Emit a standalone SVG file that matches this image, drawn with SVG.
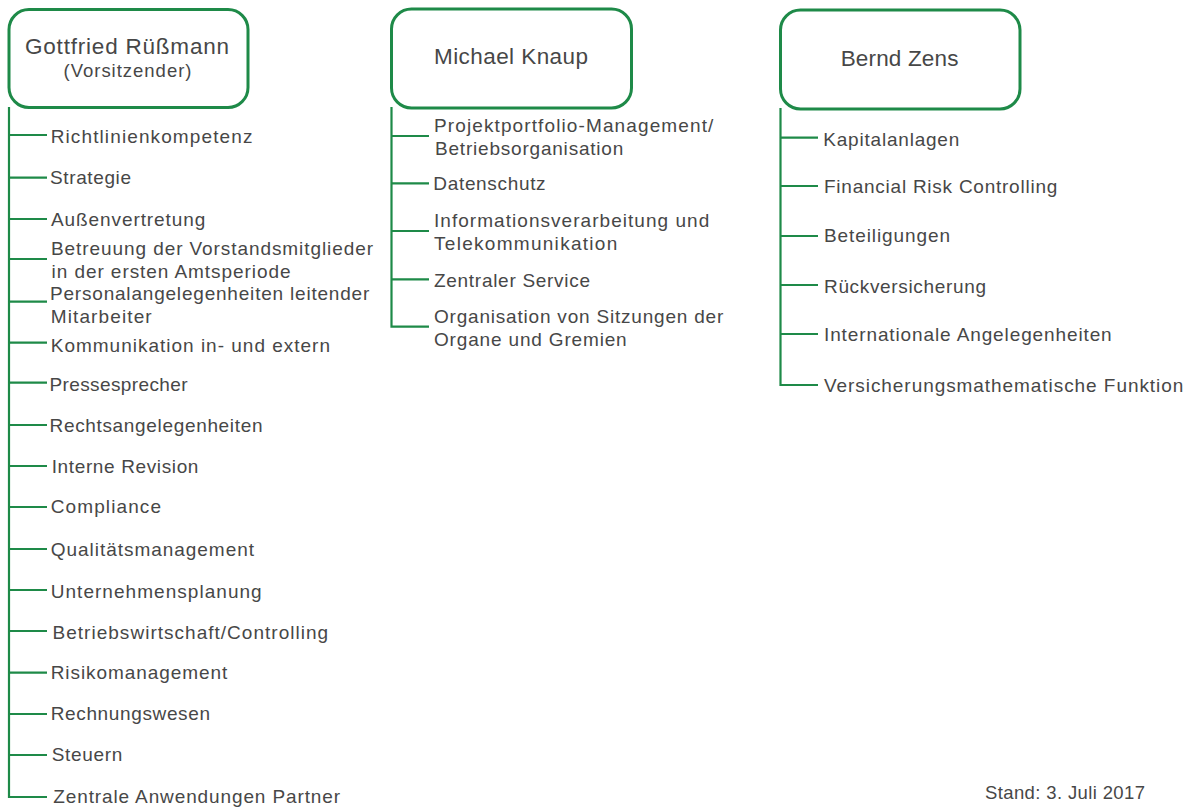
<svg xmlns="http://www.w3.org/2000/svg" width="1191" height="807" viewBox="0 0 1191 807">
<style>
.box{fill:#fff;stroke:#1e8a48;stroke-width:3}
.ln{fill:none;stroke:#1e8a48;stroke-width:2.2}
.t{font-family:"Liberation Sans",Arial,sans-serif;font-size:19px;fill:#474747}
.h{font-family:"Liberation Sans",Arial,sans-serif;font-size:22.5px;fill:#474747}
.s{font-family:"Liberation Sans",Arial,sans-serif;font-size:18.5px;fill:#474747}
</style>
<rect width="1191" height="807" fill="#fff"/>
<g id="connectors">
<path class="ln" d="M9,107 V797 H47 M9,135 H47 M9,177.7 H47 M9,219 H47 M9,259 H47 M9,301.7 H47 M9,342.7 H47 M9,382.7 H47 M9,425 H47 M9,466 H47 M9,507 H47 M9,549 H47 M9,590 H47 M9,631 H47 M9,672.7 H47 M9,714 H47 M9,755 H47"/>
<path class="ln" d="M391.5,107 V326.7 H429 M391.5,136 H429 M391.5,183.3 H429 M391.5,231 H429 M391.5,279.3 H429"/>
<path class="ln" d="M780.5,108 V385 H818 M780.5,137.7 H818 M780.5,186 H818 M780.5,236 H818 M780.5,285 H818 M780.5,334 H818"/>
</g>
<g id="node-ruessmann">
<rect class="box" x="9" y="9.5" width="239" height="98" rx="20"/>
<text class="h" x="25" y="54" textLength="204" lengthAdjust="spacing">Gottfried Rüßmann</text>
<text class="s" x="63.5" y="77" textLength="128" lengthAdjust="spacing">(Vorsitzender)</text>
</g>
<g id="node-knaup">
<rect class="box" x="391.5" y="9" width="240" height="99" rx="20"/>
<text class="h" x="434" y="64" textLength="154" lengthAdjust="spacing">Michael Knaup</text>
</g>
<g id="node-zens">
<rect class="box" x="780.5" y="10" width="239.5" height="99" rx="20"/>
<text class="h" x="840.7" y="65.5" textLength="117.7" lengthAdjust="spacing">Bernd Zens</text>
</g>
<g id="items-ruessmann">
<text class="t" x="50.7" y="143.3" textLength="201.7" lengthAdjust="spacing">Richtlinienkompetenz</text>
<text class="t" x="50" y="184.3" textLength="81" lengthAdjust="spacing">Strategie</text>
<text class="t" x="51" y="226" textLength="154.3" lengthAdjust="spacing">Außenvertretung</text>
<text class="t" x="51" y="255" textLength="322" lengthAdjust="spacing">Betreuung der Vorstandsmitglieder</text>
<text class="t" x="51.5" y="278.3" textLength="239" lengthAdjust="spacing">in der ersten Amtsperiode</text>
<text class="t" x="50" y="300" textLength="319.3" lengthAdjust="spacing">Personalangelegenheiten  leitender</text>
<text class="t" x="50.7" y="322.7" textLength="101" lengthAdjust="spacing">Mitarbeiter</text>
<text class="t" x="50.7" y="351.5" textLength="279.3" lengthAdjust="spacing">Kommunikation in- und extern</text>
<text class="t" x="49.5" y="390.7" textLength="138" lengthAdjust="spacing">Pressesprecher</text>
<text class="t" x="49.5" y="431.7" textLength="213" lengthAdjust="spacing">Rechtsangelegenheiten</text>
<text class="t" x="51.7" y="472.7" textLength="146.7" lengthAdjust="spacing">Interne Revision</text>
<text class="t" x="50.7" y="513.3" textLength="110.3" lengthAdjust="spacing">Compliance</text>
<text class="t" x="50.7" y="556" textLength="203.3" lengthAdjust="spacing">Qualitätsmanagement</text>
<text class="t" x="50.7" y="597.5" textLength="211" lengthAdjust="spacing">Unternehmensplanung</text>
<text class="t" x="52.5" y="639" textLength="275.7" lengthAdjust="spacing">Betriebswirtschaft/Controlling</text>
<text class="t" x="50.7" y="679.3" textLength="176.7" lengthAdjust="spacing">Risikomanagement</text>
<text class="t" x="50.7" y="720.3" textLength="159.3" lengthAdjust="spacing">Rechnungswesen</text>
<text class="t" x="51.7" y="760.7" textLength="70.7" lengthAdjust="spacing">Steuern</text>
<text class="t" x="53.3" y="802.7" textLength="286.7" lengthAdjust="spacing">Zentrale  Anwendungen  Partner</text>
</g>
<g id="items-knaup">
<text class="t" x="434" y="131.7" textLength="279.3" lengthAdjust="spacing">Projektportfolio-Management/</text>
<text class="t" x="435" y="155" textLength="188.3" lengthAdjust="spacing">Betriebsorganisation</text>
<text class="t" x="433.3" y="190" textLength="112.3" lengthAdjust="spacing">Datenschutz</text>
<text class="t" x="434" y="226.7" textLength="275.3" lengthAdjust="spacing">Informationsverarbeitung und</text>
<text class="t" x="434" y="250" textLength="183.3" lengthAdjust="spacing">Telekommunikation</text>
<text class="t" x="434" y="286.7" textLength="156" lengthAdjust="spacing">Zentraler Service</text>
<text class="t" x="434" y="323.3" textLength="289.3" lengthAdjust="spacing">Organisation von Sitzungen der</text>
<text class="t" x="434" y="346" textLength="192.7" lengthAdjust="spacing">Organe und Gremien</text>
</g>
<g id="items-zens">
<text class="t" x="823.3" y="145.7" textLength="136" lengthAdjust="spacing">Kapitalanlagen</text>
<text class="t" x="824" y="192.7" textLength="233.3" lengthAdjust="spacing">Financial Risk Controlling</text>
<text class="t" x="824" y="241.7" textLength="126" lengthAdjust="spacing">Beteiligungen</text>
<text class="t" x="824" y="292.5" textLength="162" lengthAdjust="spacing">Rückversicherung</text>
<text class="t" x="824" y="340.7" textLength="287.7" lengthAdjust="spacing">Internationale Angelegenheiten</text>
<text class="t" x="824" y="391.7" textLength="359.3" lengthAdjust="spacing">Versicherungsmathematische  Funktion</text>
</g>
<text class="s" x="985" y="799" textLength="160" lengthAdjust="spacing">Stand: 3. Juli 2017</text>
</svg>
